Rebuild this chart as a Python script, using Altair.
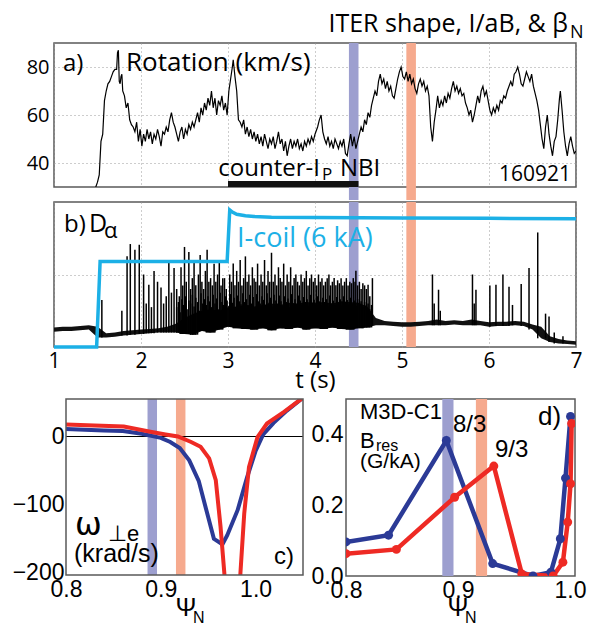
import altair as alt
import pandas as pd
import numpy as np

FT = "Open Sans"
FB = "Liberation Sans"
BLUE_BAND = "#9d9fcf"
RED_BAND = "#f6aa8e"
CYAN = "#1cb0e6"
NAVY = "#2b3a96"
RED = "#ee2a24"
FRAME = "#5a5a5a"
GRID = "#9a9a9a"

# ---------------- panel a: rotation ----------------
rot_t = [1.48, 1.50, 1.52, 1.54, 1.56, 1.58, 1.60, 1.62, 1.64, 1.66, 1.68, 1.70, 1.72, 1.73, 1.74, 1.75,
         1.76, 1.77, 1.78, 1.79, 1.81, 1.83, 1.85, 1.87, 1.89, 1.91, 1.93, 1.95, 1.97, 1.99, 2.01, 2.03,
         2.05, 2.07, 2.09, 2.11, 2.13, 2.15, 2.17, 2.19, 2.21, 2.23, 2.25, 2.27, 2.29, 2.31, 2.33, 2.35,
         2.37, 2.39, 2.41, 2.43, 2.45, 2.47, 2.49, 2.51, 2.53, 2.55, 2.57, 2.59, 2.61, 2.63, 2.65, 2.67,
         2.69, 2.71, 2.73, 2.75, 2.77, 2.79, 2.81, 2.83, 2.85, 2.87, 2.89, 2.91, 2.93, 2.95, 2.97, 2.99,
         3.01, 3.03, 3.05, 3.06, 3.08, 3.10, 3.12, 3.14, 3.16, 3.18, 3.20, 3.22, 3.24, 3.26, 3.28, 3.30,
         3.32, 3.34, 3.36, 3.38, 3.40, 3.42, 3.44, 3.46, 3.48, 3.50, 3.52, 3.54, 3.56, 3.58, 3.60, 3.62,
         3.64, 3.66, 3.68, 3.70, 3.72, 3.74, 3.76, 3.78, 3.80, 3.82, 3.84, 3.86, 3.88, 3.90, 3.92, 3.94,
         3.96, 3.98, 4.00, 4.03, 4.05, 4.07, 4.09, 4.11, 4.13, 4.15, 4.17, 4.19, 4.21, 4.23, 4.25, 4.27,
         4.29, 4.31, 4.33, 4.35, 4.37, 4.39, 4.41, 4.43, 4.45, 4.47, 4.49, 4.51, 4.53, 4.55, 4.57, 4.59,
         4.61, 4.63, 4.65, 4.67, 4.69, 4.71, 4.73, 4.75, 4.77, 4.79, 4.81, 4.83, 4.85, 4.87, 4.89, 4.91,
         4.93, 4.95, 4.97, 4.99, 5.01, 5.03, 5.05, 5.07, 5.09, 5.11, 5.13, 5.15, 5.17, 5.19, 5.21, 5.23,
         5.25, 5.27, 5.29, 5.31, 5.33, 5.35, 5.37, 5.39, 5.41, 5.43, 5.45, 5.47, 5.49, 5.51, 5.53, 5.55,
         5.57, 5.59, 5.61, 5.63, 5.65, 5.67, 5.69, 5.71, 5.73, 5.75, 5.77, 5.79, 5.81, 5.83, 5.85, 5.87,
         5.89, 5.91, 5.93, 5.95, 5.97, 5.99, 6.01, 6.03, 6.05, 6.07, 6.09, 6.11, 6.13, 6.15, 6.17, 6.19,
         6.21, 6.23, 6.25, 6.27, 6.29, 6.31, 6.33, 6.35, 6.37, 6.39, 6.41, 6.43, 6.45, 6.47, 6.49, 6.51,
         6.53, 6.55, 6.57, 6.59, 6.61, 6.63, 6.65, 6.67, 6.69, 6.71, 6.73, 6.75, 6.77, 6.79, 6.81, 6.82,
         6.84, 6.86, 6.88, 6.90, 6.92, 6.94, 6.96, 6.98, 7.00]
rot_v = [30, 32, 35, 49, 52, 66, 70, 73, 74, 76, 78, 79, 79, 86, 87, 74,
         73, 76, 77, 70, 68, 63, 65, 58, 56, 55, 53, 57, 49, 54, 47, 52,
         49, 54, 50, 53, 48, 52, 50, 54, 51, 47, 53, 52, 55, 53, 58, 61,
         57, 55, 52, 49, 53, 55, 50, 54, 52, 56, 54, 57, 55, 58, 61, 57,
         63, 60, 65, 62, 67, 64, 70, 63, 67, 60, 66, 64, 68, 62, 65, 60,
         70, 75, 80, 83, 76, 70, 58, 57, 55, 58, 52, 55, 51, 54, 50, 53,
         49, 52, 48, 51, 47, 52, 49, 46, 50, 48, 51, 46, 49, 53, 48, 50,
         45, 49, 43, 47, 50, 46, 49, 47, 50, 46, 48, 45, 49, 47, 50, 48,
         51, 49, 52, 55, 58, 60, 53, 50, 48, 51, 47, 49, 46, 50, 48, 46,
         49, 47, 50, 44, 43, 48, 52, 47, 51, 46, 49, 52, 55, 53, 58, 56,
         61, 59, 64, 67, 70, 68, 74, 77, 73, 75, 71, 74, 70, 72, 68, 67,
         71, 75, 78, 80, 76, 75, 78, 74, 77, 73, 75, 71, 69, 73, 75, 72,
         74, 70, 72, 68, 55, 49, 57, 62, 68, 63, 66, 64, 68, 65, 69, 67,
         71, 74, 70, 72, 69, 71, 68, 69, 65, 63, 60, 62, 57, 60, 64, 68,
         65, 70, 72, 68, 70, 66, 62, 60, 63, 61, 64, 62, 66, 65, 68, 67,
         70, 72, 74, 72, 77, 78, 80, 77, 73, 72, 75, 78, 76, 74, 77, 72,
         69, 66, 62, 56, 50, 46, 55, 60, 52, 47, 43, 49, 51, 58, 67, 70,
         62, 53, 47, 43, 48, 51, 47, 44, 45]

band_x1 = [4.39, 5.05]
band_x2 = [4.50, 5.16]
band_col = [BLUE_BAND, RED_BAND]
nbi_start = [3.0]
nbi_end = [4.5]

# ---------------- panel b: D-alpha and I-coil ----------------
da_t = [round(1.0 + 0.1 * i, 1) for i in range(61)]
da_lo = [0.21, 0.22, 0.22, 0.23, 0.24, 0.13, 0.13, 0.14, 0.16, 0.17,
         0.18, 0.19, 0.20, 0.20, 0.20, 0.18, 0.17, 0.22, 0.20, 0.24,
         0.28, 0.26, 0.25, 0.24, 0.26, 0.23, 0.26, 0.25, 0.27, 0.24,
         0.26, 0.25, 0.27, 0.25, 0.24, 0.26, 0.27, 0.30, 0.30, 0.29,
         0.28, 0.28, 0.29, 0.30, 0.30, 0.30, 0.31, 0.30, 0.30, 0.30,
         0.28, 0.29, 0.29, 0.30, 0.29, 0.24, 0.12, 0.07, 0.05, 0.04, 0.03]
da_hi = [0.27, 0.28, 0.28, 0.29, 0.30, 0.28, 0.19, 0.20, 0.22, 0.23,
         0.24, 0.25, 0.26, 0.28, 0.32, 0.40, 0.46, 0.50, 0.52, 0.50,
         0.55, 0.56, 0.58, 0.56, 0.58, 0.60, 0.58, 0.61, 0.60, 0.62,
         0.61, 0.62, 0.60, 0.63, 0.62, 0.61, 0.56, 0.40, 0.36, 0.35,
         0.34, 0.34, 0.35, 0.36, 0.38, 0.36, 0.37, 0.36, 0.38, 0.36,
         0.34, 0.35, 0.35, 0.36, 0.35, 0.31, 0.28, 0.15, 0.11, 0.09, 0.08]

elm_t = [1.55, 1.78, 1.84, 1.877, 1.93, 1.98, 2.03, 2.06, 2.09, 2.12, 2.15, 2.19, 2.23, 2.26, 2.29,
         2.32, 2.35, 2.38, 2.41, 2.44, 2.46, 2.48, 2.50, 2.52, 2.55, 2.57, 2.59, 2.61, 2.63, 2.66,
         2.68, 2.70, 2.72, 2.74, 2.76, 2.78, 2.80, 2.82, 2.84, 2.86, 2.88, 2.90, 2.92, 2.94, 2.96,
         2.98, 3.02, 3.04, 3.06, 3.08, 3.10, 3.12, 3.14, 3.16, 3.18, 3.20, 3.22, 3.24, 3.26, 3.28,
         3.30, 3.32, 3.34, 3.36, 3.38, 3.40, 3.42, 3.44, 3.46, 3.48, 3.50, 3.52, 3.54, 3.56, 3.58,
         3.60, 3.62, 3.64, 3.66, 3.68, 3.70, 3.72, 3.74, 3.76, 3.78, 3.80, 3.82, 3.84, 3.86, 3.88,
         3.90, 3.92, 3.94, 3.96, 3.98, 4.00, 4.02, 4.04, 4.06, 4.08, 4.10, 4.12, 4.14, 4.16, 4.18,
         4.20, 4.22, 4.24, 4.26, 4.28, 4.30, 4.32, 4.34, 4.36, 4.38, 4.40, 4.42, 4.44, 4.46, 4.47,
         4.49, 4.51, 4.53, 4.55, 4.57, 4.59, 4.61, 4.63, 4.66,
         5.35, 5.37, 5.42, 5.44, 5.81, 5.83, 5.85, 6.01, 6.08, 6.16, 6.23, 6.27, 6.37, 6.46, 6.56,
         6.65, 6.69, 6.75, 6.85]
elm_h = [0.65, 0.50, 1.25, 1.42, 1.34, 1.41, 1.00, 0.60, 0.86, 0.55, 1.05, 0.90, 0.82, 0.60, 0.70,
         1.18, 0.75, 1.09, 0.80, 0.70, 1.10, 0.85, 1.38, 0.90, 1.31, 0.80, 0.95, 1.20, 0.85, 1.00,
         1.27, 0.90, 0.80, 1.05, 1.34, 0.90, 0.95, 0.85, 1.15, 0.90, 1.00, 1.20, 0.85, 0.95, 0.95,
         0.80, 1.00, 0.90, 1.15, 0.85, 1.05, 0.90, 1.20, 0.85, 0.95, 1.25, 0.90, 1.00, 0.85, 1.10,
         0.95, 0.90, 1.15, 0.85, 1.00, 0.90, 1.20, 0.85, 1.05, 0.90, 1.30, 0.90, 1.00, 0.85, 1.10,
         0.95, 0.90, 1.15, 0.85, 1.00, 0.90, 1.10, 0.85, 0.95, 1.00, 0.90, 0.85, 1.00, 0.90, 0.95,
         1.05, 0.85, 0.95, 1.00, 0.90, 0.95, 0.85, 1.00, 0.90, 0.95, 0.85, 0.90, 0.95, 1.00, 0.85,
         0.90, 0.95, 0.85, 0.92, 0.88, 0.95, 0.85, 0.90, 0.95, 0.85, 0.90, 0.88, 0.95, 0.90, 1.05,
         0.85, 0.90, 0.80, 0.88, 0.85, 0.80, 0.86, 0.70, 0.95,
         1.00, 0.60, 0.79, 0.50, 1.00, 0.60, 0.79, 0.85, 0.86, 1.00, 0.83, 0.58, 0.87, 1.09, 1.58,
         0.46, 0.42, 0.20, 0.15]
# smaller ELMs between the larger ones (2.41 s ... 4.65 s, every 0.02 s)
elm2_t = [round(2.41 + 0.02 * i, 2) for i in range(113)]
elm2_h = [0.55, 0.62, 0.48, 0.66, 0.58, 0.70, 0.52, 0.64, 0.60, 0.72,
          0.56, 0.68, 0.62, 0.50, 0.74, 0.60, 0.66, 0.58, 0.70, 0.63,
          0.55, 0.72, 0.60, 0.67, 0.52, 0.75, 0.62, 0.58, 0.70, 0.64,
          0.57, 0.73, 0.61, 0.68, 0.55, 0.71, 0.63, 0.59, 0.74, 0.62,
          0.66, 0.58, 0.72, 0.60, 0.69, 0.54, 0.73, 0.63, 0.60, 0.70,
          0.65, 0.58, 0.74, 0.61, 0.68, 0.56, 0.72, 0.64, 0.60, 0.71,
          0.63, 0.57, 0.70, 0.62, 0.67, 0.55, 0.73, 0.60, 0.66, 0.59,
          0.71, 0.64, 0.58, 0.69, 0.62, 0.66, 0.57, 0.72, 0.61, 0.65,
          0.59, 0.70, 0.63, 0.58, 0.68, 0.62, 0.66, 0.56, 0.71, 0.60,
          0.64, 0.58, 0.69, 0.61, 0.66, 0.57, 0.70, 0.62, 0.65, 0.59,
          0.68, 0.60, 0.64, 0.57, 0.66, 0.60, 0.63, 0.55, 0.62, 0.58,
          0.60, 0.52, 0.58]

icoil_t = [1.0, 1.49, 1.53, 2.99, 3.02, 3.05, 3.10, 3.20, 3.30, 3.50, 4.00, 5.00, 6.00, 7.00]
icoil_v = [0.0, 0.0, 1.18, 1.18, 1.89, 1.86, 1.83, 1.81, 1.80, 1.79, 1.785, 1.78, 1.775, 1.77]

# ---------------- panel c: omega_perp_e profiles ----------------
wc_blue_psi = [0.80, 0.82, 0.84, 0.86, 0.88, 0.89, 0.90, 0.91, 0.92, 0.93, 0.94, 0.949, 0.956,
               0.965, 0.970, 0.981, 0.991, 1.000, 1.008, 1.019, 1.033, 1.050]
wc_blue_val = [11, 10, 9, 8, 4, 1, -2, -8, -17, -35, -65, -113, -150,
               -158, -145, -108, -60, -21, 3, 20, 38, 57]
wc_red_psi = [0.80, 0.83, 0.861, 0.889, 0.905, 0.918, 0.932, 0.942, 0.951, 0.958, 0.963, 0.967,
              0.972, 0.981, 0.984, 0.988, 0.993, 1.002, 1.012, 1.030, 1.050]
wc_red_val = [17.5, 16, 14.6, 7, 3, 0, -8, -15, -32, -64, -132, -200,
              -290, -290, -200, -113, -45, -1, 19, 36, 57]

# ---------------- panel d: Bres ----------------
bd_blue_psi = [0.80, 0.838, 0.8896, 0.931, 0.967, 0.983, 0.9914, 0.996, 1.0005]
bd_blue_val = [0.096, 0.115, 0.382, 0.035, 0.0, 0.011, 0.105, 0.276, 0.45]
bd_red_psi = [0.80, 0.845, 0.897, 0.932, 0.957, 0.985, 0.9937, 0.998, 1.0005, 1.0015]
bd_red_val = [0.063, 0.075, 0.222, 0.31, 0.006, 0.0, 0.039, 0.152, 0.26, 0.43]

psi_band_x1 = [0.886, 0.916]
psi_band_x2 = [0.896, 0.926]

# ================= build =================
one = pd.DataFrame({"a": [0]})


def txt(s, x, y, size, font, color="black", align="left", baseline="alphabetic"):
    return alt.Chart(one).mark_text(
        text=s, font=font, fontSize=size, color=color, align=align, baseline=baseline
    ).encode(x=alt.value(x), y=alt.value(y))


WA, HA = 522, 144
HB = 145
GAP_AB = 13
CX0 = 12                 # panel c frame starts 12 px right of the column origin
WC, HC = 237, 176
WD, HD = 229, 177

tscale = alt.Scale(domain=[1, 7], nice=False, zero=False)


def tx(field, labels=False, title=None):
    extra = {} if labels else {"minExtent": 0, "maxExtent": 0}
    return alt.X(field, type="quantitative", scale=tscale,
                 axis=alt.Axis(values=[1, 2, 3, 4, 5, 6, 7], labels=labels, ticks=False, domain=False,
                               grid=True, gridDash=[1, 3], gridColor=GRID, gridWidth=1,
                               labelFont=FT, labelFontSize=21, labelColor="black", labelPadding=3,
                               labelFlush=False,
                               title=title, titleFont=FT, titleFontSize=24, titleFontWeight="normal",
                               titleColor="black", titlePadding=-3, **extra))


bands_t = pd.DataFrame({"x1": band_x1, "x2": band_x2, "c": band_col})

# panel a
ya = alt.Y("v:Q", scale=alt.Scale(domain=[30, 90], nice=False, zero=False),
           axis=alt.Axis(values=[40, 60, 80], ticks=False, domain=False, grid=True, gridDash=[1, 3],
                         gridColor=GRID, labelFont=FT, labelFontSize=20, labelColor="black",
                         labelPadding=5, minExtent=40, maxExtent=40, title=None))
a_bands = alt.Chart(bands_t).mark_rect().encode(
    x=tx("x1"), x2="x2", y=alt.value(0), y2=alt.value(HA + GAP_AB), color=alt.Color("c:N", scale=None))
a_line = alt.Chart(pd.DataFrame({"t": rot_t, "v": rot_v})).mark_line(
    color="black", strokeWidth=1.2, clip=True).encode(x=tx("t"), y=ya)
a_bar = alt.Chart(pd.DataFrame({"s": nbi_start, "e": nbi_end})).mark_rect(color="#111").encode(
    x=tx("s"), x2="e", y=alt.value(HA - 6), y2=alt.value(HA))
a = alt.layer(
    a_bands, a_line, a_bar,
    txt("a)", 9, 28, 24, FT),
    txt("Rotation (km/s)", 72, 28, 26, FT),
    txt("ITER shape, I/aB, & β", 514, -11, 25, FT, align="right"),
    txt("N", 516, -5, 18, FT),
    txt("counter-I", 266, 133, 24, FT, align="right"),
    txt("P", 268, 137, 17, FT),
    txt("NBI", 286, 133, 24, FT),
    txt("160921", 517, 138, 21, FT, align="right"),
).properties(width=WA, height=HA)

# panel b
yb_scale = alt.Scale(domain=[0, 2], nice=False, zero=False)
yb_axis = alt.Axis(values=[1], ticks=False, domain=False, grid=True, gridDash=[1, 3], gridColor=GRID,
                   labelFont=FT, labelFontSize=20, labelColor="#ffffff", labelExpr="'80'",
                   labelPadding=5, minExtent=40, maxExtent=40, title=None)
b_bands = alt.Chart(bands_t).mark_rect().encode(
    x=tx("x1", True, "t (s)"), x2="x2", y=alt.value(0), y2=alt.value(HB),
    color=alt.Color("c:N", scale=None))
b_area = alt.Chart(pd.DataFrame({"t": da_t, "lo": da_lo, "hi": da_hi})).mark_area(
    color="#111", opacity=1).encode(
    x=tx("t", True, "t (s)"), y=alt.Y("lo:Q", scale=yb_scale, axis=yb_axis), y2="hi:Q")
all_t = elm_t + elm2_t
all_h = elm_h + elm2_h
all_b = [da_lo[int(round((t - 1.0) / 0.1))] for t in all_t]
b_spk = alt.Chart(pd.DataFrame({"t": all_t, "b": all_b, "h": all_h})).mark_rule(
    color="#000", strokeWidth=1.5).encode(
    x=tx("t", True, "t (s)"), y=alt.Y("b:Q", scale=yb_scale, axis=yb_axis), y2="h:Q")
b_coil = alt.Chart(pd.DataFrame({"t": icoil_t, "v": icoil_v})).mark_line(
    color=CYAN, strokeWidth=3.5).encode(
    x=tx("t", True, "t (s)"), y=alt.Y("v:Q", scale=yb_scale, axis=yb_axis))
b = alt.layer(
    b_bands, b_area, b_spk, b_coil,
    txt("b)", 10, 30, 24, FT),
    txt("D", 35, 30, 25, FT),
    txt("α", 50, 36, 22, FT),
    txt("I-coil (6 kA)", 183, 45, 27, FT, color=CYAN),
).properties(width=WA, height=HB)

# panel c (frame drawn as a rect; x range starts at CX0)
cx_scale = alt.Scale(domain=[0.8, 1.05], nice=False, zero=False, range=[CX0, CX0 + WC])


def cx(field, scale, values):
    return alt.X(field, type="quantitative", scale=scale,
                 axis=alt.Axis(values=values, format=".1f", ticks=False, domain=False, grid=False,
                               labelFont=FB, labelFontSize=23, labelColor="black", labelPadding=3,
                               labelFlush=False, title=None))


cy_scale = alt.Scale(domain=[-203, 55], nice=False, zero=False)
cy_axis = alt.Axis(values=[-200, -100, 0], ticks=False, domain=False, grid=False, labelFont=FB,
                   labelFontSize=23, labelColor="black", labelPadding=1, offset=-CX0 + 1, title=None)
psi_bands = pd.DataFrame({"x1": psi_band_x1, "x2": psi_band_x2, "c": band_col})
c_bands = alt.Chart(psi_bands).mark_rect().encode(
    x=cx("x1", cx_scale, [0.8, 0.9, 1.0]), x2="x2", y=alt.value(0), y2=alt.value(HC),
    color=alt.Color("c:N", scale=None))
c_zero = alt.Chart(pd.DataFrame({"v": [0]})).mark_rule(color="black", strokeWidth=1.2).encode(
    x=alt.value(CX0), x2=alt.value(CX0 + WC), y=alt.Y("v:Q", scale=cy_scale, axis=cy_axis))
c_df = pd.concat([
    pd.DataFrame({"psi": wc_blue_psi, "v": wc_blue_val, "s": "blue", "c": NAVY}),
    pd.DataFrame({"psi": wc_red_psi, "v": wc_red_val, "s": "red", "c": RED}),
])
c_lines = alt.Chart(c_df).mark_line(strokeWidth=4, clip=True).encode(
    x=cx("psi", cx_scale, [0.8, 0.9, 1.0]), y=alt.Y("v:Q", scale=cy_scale, axis=cy_axis),
    color=alt.Color("c:N", scale=None), detail="s:N", order="psi:Q")
c_frame = alt.Chart(one).mark_rect(fill="transparent", stroke=FRAME, strokeWidth=1.5).encode(
    x=alt.value(CX0), x2=alt.value(CX0 + WC), y=alt.value(0), y2=alt.value(HC))
c = alt.layer(
    c_bands, c_zero, c_lines, c_frame,
    txt("ω", CX0 + 9, 136, 32, "DejaVu Sans"),
    txt("⊥e", CX0 + 42, 142, 22, FB),
    txt("(krad/s)", CX0 + 8, 163, 25, FB),
    txt("c)", CX0 + 228, 165, 24, FB, align="right"),
    txt("Ψ", CX0 + 120, 217, 25, FB, align="center"),
    txt("N", CX0 + 127, 224, 16, FB),
).properties(width=CX0 + WC, height=HC, view=alt.ViewBackground(stroke="transparent"))

# panel d
dx_scale = alt.Scale(domain=[0.8, 1.0045], nice=False, zero=False)
dy_scale = alt.Scale(domain=[0, 0.499], nice=False, zero=False)
dy_axis = alt.Axis(values=[0.0, 0.2, 0.4], format=".1f", ticks=False, domain=False, grid=False,
                   labelFont=FB, labelFontSize=23, labelColor="black", labelPadding=3, title=None)
d_bands = alt.Chart(psi_bands).mark_rect().encode(
    x=cx("x1", dx_scale, [0.8, 0.9, 1.0]), x2="x2", y=alt.value(0), y2=alt.value(HD),
    color=alt.Color("c:N", scale=None))
d_df = pd.concat([
    pd.DataFrame({"psi": bd_blue_psi, "v": bd_blue_val, "s": "blue", "c": NAVY}),
    pd.DataFrame({"psi": bd_red_psi, "v": bd_red_val, "s": "red", "c": RED}),
])
d_lines = alt.Chart(d_df).mark_line(
    strokeWidth=4.5, clip=True, point=alt.OverlayMarkDef(filled=True, size=80, clip=True)).encode(
    x=cx("psi", dx_scale, [0.8, 0.9, 1.0]), y=alt.Y("v:Q", scale=dy_scale, axis=dy_axis),
    color=alt.Color("c:N", scale=None), detail="s:N", order="psi:Q")
d = alt.layer(
    d_bands, d_lines,
    txt("M3D-C1", 14, 20, 22, FB),
    txt("B", 14, 49, 22, FB),
    txt("res", 30, 52, 16, FB),
    txt("(G/kA)", 14, 69, 21, FB),
    txt("8/3", 107, 33, 24, FB),
    txt("9/3", 149, 58, 24, FB),
    txt("d)", 192, 26, 26, FB),
    txt("Ψ", 112, 217, 25, FB, align="center"),
    txt("N", 119, 224, 16, FB),
).properties(width=WD, height=HD)

top = alt.vconcat(a, b, spacing=0)
bottom = alt.hconcat(c, d, spacing=5)
chart = alt.vconcat(top, bottom, spacing=4).properties(
    padding={"left": 11, "top": 11, "right": 0, "bottom": 0}
).configure_view(stroke=FRAME, strokeWidth=1.5)

chart.save("out.html", embed_options={"renderer": "svg", "actions": False})
